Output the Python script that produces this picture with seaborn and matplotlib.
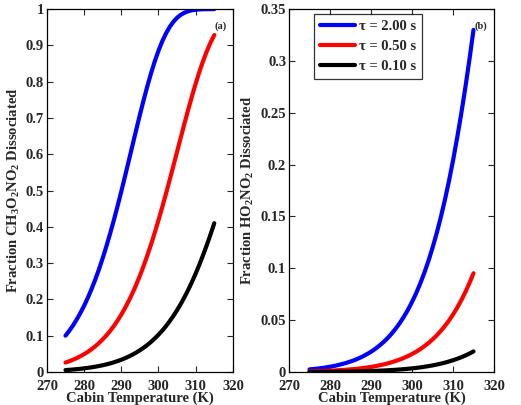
import pandas as pd
import matplotlib.pyplot as plt
import seaborn as sns
from matplotlib.ticker import FuncFormatter

# cabin temperature grid (K), 1 K steps
temps = list(range(275, 316))

# panel (a): CH3O2NO2 fraction dissociated
ch3_tau200 = [0.1000, 0.1133, 0.1280, 0.1444, 0.1626, 0.1824, 0.2044, 0.2285, 0.2546, 0.2829,
              0.3137, 0.3465, 0.3815, 0.4184, 0.4572, 0.4975, 0.5391, 0.5815, 0.6242, 0.6669,
              0.7086, 0.7490, 0.7874, 0.8233, 0.8561, 0.8854, 0.9110, 0.9328, 0.9508, 0.9651,
              0.9762, 0.9844, 0.9902, 0.9941, 0.9967, 0.9982, 0.9991, 0.9996, 0.9998, 0.9999,
              1.0000]
ch3_tau050 = [0.0260, 0.0296, 0.0337, 0.0382, 0.0434, 0.0491, 0.0555, 0.0628, 0.0708, 0.0798,
              0.0898, 0.1009, 0.1132, 0.1267, 0.1417, 0.1581, 0.1761, 0.1957, 0.2171, 0.2403,
              0.2652, 0.2922, 0.3210, 0.3516, 0.3840, 0.4182, 0.4539, 0.4908, 0.5289, 0.5678,
              0.6071, 0.6464, 0.6853, 0.7233, 0.7599, 0.7948, 0.8273, 0.8572, 0.8841, 0.9080,
              0.9285]
ch3_tau010 = [0.0053, 0.0060, 0.0068, 0.0078, 0.0088, 0.0100, 0.0114, 0.0129, 0.0146, 0.0165,
              0.0186, 0.0210, 0.0237, 0.0267, 0.0301, 0.0338, 0.0380, 0.0426, 0.0478, 0.0535,
              0.0598, 0.0668, 0.0745, 0.0830, 0.0924, 0.1027, 0.1139, 0.1263, 0.1398, 0.1545,
              0.1704, 0.1878, 0.2064, 0.2266, 0.2482, 0.2714, 0.2962, 0.3224, 0.3502, 0.3794,
              0.4101]

# panel (b): HO2NO2 fraction dissociated
ho2_tau200 = [0.0025, 0.0029, 0.0033, 0.0038, 0.0044, 0.0051, 0.0058, 0.0067, 0.0077, 0.0088,
              0.0101, 0.0115, 0.0132, 0.0150, 0.0172, 0.0195, 0.0222, 0.0253, 0.0287, 0.0325,
              0.0368, 0.0417, 0.0471, 0.0532, 0.0599, 0.0675, 0.0759, 0.0852, 0.0956, 0.1070,
              0.1197, 0.1336, 0.1489, 0.1656, 0.1839, 0.2039, 0.2256, 0.2489, 0.2741, 0.3012,
              0.3300]
ho2_tau050 = [0.00062, 0.00072, 0.00083, 0.00096, 0.00111, 0.00127, 0.00146, 0.00168, 0.00193, 0.00221,
              0.00253, 0.00290, 0.00331, 0.00378, 0.00432, 0.00492, 0.00560, 0.00638, 0.00725, 0.00823,
              0.00934, 0.01059, 0.01199, 0.01357, 0.01533, 0.01732, 0.01954, 0.02202, 0.02480, 0.02790,
              0.03136, 0.03522, 0.03950, 0.04426, 0.04954, 0.05541, 0.06190, 0.06906, 0.07699, 0.08568,
              0.09525]
ho2_tau010 = [0.00013, 0.00014, 0.00017, 0.00019, 0.00022, 0.00026, 0.00029, 0.00034, 0.00039, 0.00044,
              0.00051, 0.00058, 0.00066, 0.00076, 0.00087, 0.00099, 0.00112, 0.00128, 0.00145, 0.00165,
              0.00188, 0.00213, 0.00241, 0.00273, 0.00309, 0.00349, 0.00394, 0.00444, 0.00501, 0.00564,
              0.00635, 0.00714, 0.00803, 0.00901, 0.01011, 0.01134, 0.01270, 0.01421, 0.01589, 0.01776,
              0.01983]

taus = ["\u03c4 = 2.00 s", "\u03c4 = 0.50 s", "\u03c4 = 0.10 s"]
colors = {taus[0]: "#0000ff", taus[1]: "#ff0000", taus[2]: "#000000"}


def long_form(series):
    rows = []
    for tau, vals in zip(taus, series):
        for t, v in zip(temps, vals):
            rows.append({"T": t, "frac": v, "tau": tau})
    return pd.DataFrame(rows)


df_a = long_form([ch3_tau200, ch3_tau050, ch3_tau010])
df_b = long_form([ho2_tau200, ho2_tau050, ho2_tau010])

sns.set_style("ticks")
plt.rcParams["font.family"] = ["Liberation Serif", "DejaVu Serif"]
plt.rcParams["font.weight"] = "bold"
plt.rcParams["mathtext.fontset"] = "custom"
plt.rcParams["mathtext.rm"] = "Liberation Serif:bold"
plt.rcParams["mathtext.bf"] = "Liberation Serif:bold"
plt.rcParams["mathtext.default"] = "rm"

fig = plt.figure(figsize=(5.21, 4.05), dpi=100)
ax1 = fig.add_axes([0.090, 0.0815, 0.357, 0.896])
ax2 = fig.add_axes([0.5547, 0.0815, 0.3935, 0.896])

fmt = FuncFormatter(lambda v, p: f"{v:g}")

for ax, df, ymax, ystep, ylab, tag in [
    (ax1, df_a, 1.0, 0.1, r"Fraction CH$_3$O$_2$NO$_2$ Dissociated", "(a)"),
    (ax2, df_b, 0.35, 0.05, r"Fraction HO$_2$NO$_2$ Dissociated", "(b)"),
]:
    sns.lineplot(data=df, x="T", y="frac", hue="tau", hue_order=taus,
                 palette=colors, linewidth=3.0, ax=ax, legend=(ax is ax2))
    ax.set_xlim(270, 320)
    ax.set_ylim(0, ymax)
    ax.set_xticks(range(270, 321, 10))
    n = int(round(ymax / ystep))
    ax.set_yticks([round(i * ystep, 2) for i in range(n + 1)])
    ax.yaxis.set_major_formatter(fmt)
    ax.tick_params(direction="in", top=True, right=True, labelsize=10.5,
                   length=4, width=0.8)
    ax.tick_params(axis="x", pad=5.5)
    ax.tick_params(axis="y", pad=2)
    for lab in ax.get_xticklabels() + ax.get_yticklabels():
        lab.set_fontweight("bold")
    for s in ax.spines.values():
        s.set_linewidth(0.9)
        s.set_color("black")
    ax.set_xlabel("Cabin Temperature (K)", fontsize=10.5, fontweight="bold", labelpad=-1)
    ax.set_ylabel(ylab, fontsize=10.5, fontweight="bold", labelpad=3)
    ax.text(0.965, 0.965, tag, transform=ax.transAxes, ha="right", va="top",
            fontsize=7.5, fontweight="bold")

leg = ax2.legend(loc="upper left", bbox_to_anchor=(0.122, 0.986), borderaxespad=0,
                 frameon=True, fancybox=False, edgecolor="black",
                 handlelength=2.4, handletextpad=0.3, labelspacing=0.45,
                 borderpad=0.4, prop={"weight": "bold", "size": 10.5})
leg.get_frame().set_linewidth(0.9)
for line in leg.get_lines():
    line.set_linewidth(3.0)

fig.savefig("out.png", dpi=100, facecolor="white")
